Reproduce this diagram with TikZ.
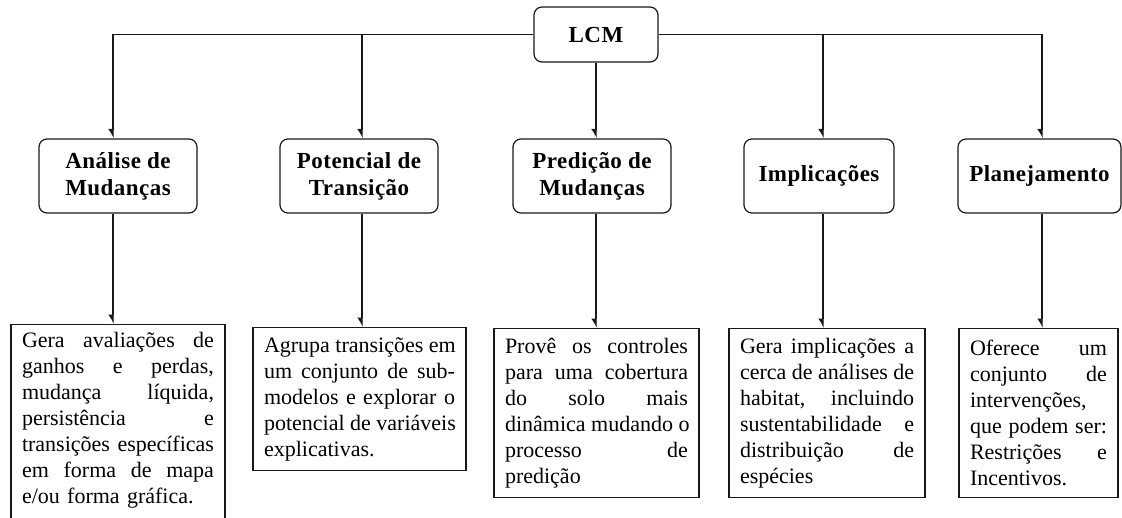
\documentclass[tikz,border=0pt]{standalone}
\usepackage{fontspec}
\setmainfont{Liberation Serif}
\usetikzlibrary{arrows.meta}
\newcommand{\jl}[1]{\hbox to \hsize{\spaceskip=0.25em plus 10em\relax #1}\par}
\newcommand{\lastline}[1]{\hbox{#1}\par}
\begin{document}
\begin{tikzpicture}[x=1pt,y=-1pt,
  topbox/.style={draw=black!90, line width=1.2pt, rounded corners=8pt,
    font=\fontsize{23}{27}\selectfont\bfseries\addfontfeature{LetterSpace=2}, align=center,
    minimum height=74pt, inner sep=0pt},
  lowbox/.style={draw=black!90, line width=1.2pt,
    font=\fontsize{22}{26}\selectfont, inner xsep=11pt, inner ysep=0pt, anchor=north},
  arr/.style={draw=black!90, line width=1.2pt, -{Latex[length=8pt,width=10pt,right]}}]
\useasboundingbox (0,0) rectangle (1122,517);
\fill[white] (0,0) rectangle (1122,517);

\node[topbox, minimum width=124pt, minimum height=55pt] (lcm) at (596,34.5) {LCM};
\node[topbox, minimum width=158pt] (b1) at (118,176) {Análise de\\Mudanças};
\node[topbox, minimum width=158pt] (b2) at (359,176) {Potencial de\\Transição};
\node[topbox, minimum width=158pt] (b3) at (592,176) {Predição de\\Mudanças};
\node[topbox, minimum width=150pt] (b4) at (819,176) {Implicações};
\node[topbox, minimum width=163pt] (b5) at (1039.5,176) {Planejamento};

\node[lowbox, text width=192pt, inner ysep=8pt] (l1) at (118,324) {%
\jl{Gera avaliações de}
\jl{ganhos e perdas,}
\jl{mudança líquida,}
\jl{persistência e}
\jl{transições específicas}
\jl{em forma de mapa}
\lastline{e/ou forma gráfica.\rule[-40pt]{0pt}{0pt}}};

\node[lowbox, text width=191pt, minimum height=143pt] (l2) at (359.5,327) {%
\jl{Agrupa transições em}
\jl{um conjunto de sub-}
\jl{modelos e explorar o}
\jl{potencial de variáveis}
\lastline{explicativas.}};

\node[lowbox, text width=183pt, minimum height=169pt] (l3) at (596.5,328) {%
\jl{Provê os controles}
\jl{para uma cobertura}
\jl{do solo mais}
\jl{dinâmica mudando o}
\jl{processo de}
\lastline{predição}};

\node[lowbox, text width=174pt, minimum height=169pt] (l4) at (827,328) {%
\jl{Gera implicações a}
\jl{cerca de análises de}
\jl{habitat, incluindo}
\jl{sustentabilidade e}
\jl{distribuição de}
\lastline{espécies}};

\node[lowbox, text width=137pt, minimum height=169pt] (l5) at (1038.5,328) {%
\jl{Oferece um}
\jl{conjunto de}
\lastline{intervenções,}
\jl{que podem ser:}
\jl{Restrições e}
\lastline{Incentivos.}};

\coordinate (x1) at (113,0);
\coordinate (x2) at (362,0);
\coordinate (x3) at (596,0);
\coordinate (x4) at (823,0);
\coordinate (x5) at (1042,0);

\draw[arr] (lcm.west) -| (b1.north -| x1);
\draw[arr] (lcm.west -| x2) -- (b2.north -| x2);
\draw[arr] (lcm.south -| x3) -- (b3.north -| x3);
\draw[arr] (lcm.east -| x4) -- (b4.north -| x4);
\draw[arr] (lcm.east) -| (b5.north -| x5);

\draw[arr] (b1.south -| x1) -- (l1.north -| x1);
\draw[arr] (b2.south -| x2) -- (l2.north -| x2);
\draw[arr] (b3.south -| x3) -- (l3.north -| x3);
\draw[arr] (b4.south -| x4) -- (l4.north -| x4);
\draw[arr] (b5.south -| x5) -- (l5.north -| x5);
\end{tikzpicture}
\end{document}
